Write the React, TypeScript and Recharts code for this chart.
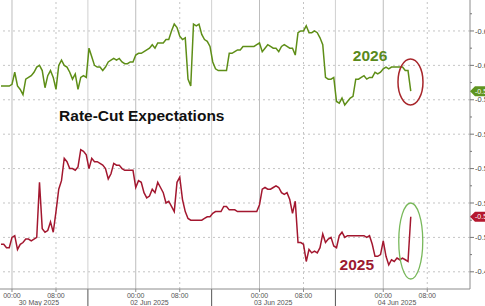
import React from 'react';
import { LineChart, Line, XAxis, YAxis, ReferenceLine, ReferenceDot } from 'recharts';

const FONT = '"Liberation Sans", Arial, Helvetica, sans-serif';

// sampled every 30 min of (compressed) session time, starting 30 May -2h
const SAMPLE_START = -2;
const SAMPLE_STEP = 0.5;

const cuts2026 = [
  -0.588, -0.588, -0.588, -0.588, -0.589, -0.596, -0.588, -0.586, -0.583, -0.592,
  -0.593, -0.594, -0.596, -0.599, -0.6, -0.597, -0.587, -0.594, -0.597, -0.593,
  -0.586, -0.6, -0.603, -0.6, -0.599, -0.596, -0.592, -0.595, -0.586, -0.593,
  -0.594, -0.593, -0.61, -0.605, -0.6, -0.599, -0.599, -0.597, -0.599, -0.602,
  -0.603, -0.604, -0.603, -0.604, -0.602, -0.601, -0.601, -0.602, -0.602, -0.606,
  -0.607, -0.607, -0.608, -0.609, -0.61, -0.612, -0.61, -0.613, -0.613, -0.613,
  -0.615, -0.615, -0.62, -0.624, -0.622, -0.617, -0.615, -0.616, -0.592, -0.588,
  -0.624, -0.623, -0.624, -0.618, -0.615, -0.614, -0.611, -0.602, -0.598, -0.597,
  -0.597, -0.597, -0.597, -0.607, -0.607, -0.608, -0.609, -0.609, -0.611, -0.611,
  -0.611, -0.611, -0.611, -0.612, -0.613, -0.608, -0.61, -0.612, -0.611, -0.61,
  -0.61, -0.608, -0.611, -0.612, -0.611, -0.61, -0.61, -0.606, -0.619, -0.62,
  -0.62, -0.623, -0.619, -0.619, -0.62, -0.619, -0.616, -0.612, -0.593, -0.592,
  -0.592, -0.593, -0.579, -0.578, -0.581, -0.577, -0.579, -0.581, -0.582, -0.592,
  -0.592, -0.593, -0.594, -0.592, -0.593, -0.593, -0.596, -0.595, -0.596, -0.598,
  -0.599, -0.598, -0.599, -0.599, -0.599, -0.599, -0.599, -0.597, -0.597, -0.585,
];

const cuts2025 = [
  -0.496, -0.496, -0.494, -0.494, -0.5, -0.501, -0.493, -0.496, -0.497, -0.499,
  -0.499, -0.498, -0.499, -0.5, -0.532, -0.505, -0.503, -0.504, -0.509, -0.503,
  -0.515, -0.528, -0.533, -0.546, -0.544, -0.54, -0.54, -0.539, -0.541, -0.551,
  -0.55, -0.548, -0.54, -0.546, -0.544, -0.544, -0.543, -0.542, -0.54, -0.534,
  -0.537, -0.543, -0.542, -0.542, -0.54, -0.539, -0.539, -0.539, -0.539, -0.529,
  -0.533, -0.532, -0.526, -0.523, -0.524, -0.528, -0.526, -0.532, -0.529, -0.526,
  -0.52, -0.521, -0.518, -0.515, -0.532, -0.535, -0.522, -0.515, -0.511, -0.51,
  -0.51, -0.51, -0.51, -0.51, -0.511, -0.512, -0.512, -0.514, -0.515, -0.515,
  -0.515, -0.518, -0.518, -0.516, -0.516, -0.516, -0.515, -0.515, -0.515, -0.515,
  -0.515, -0.515, -0.515, -0.515, -0.519, -0.528, -0.529, -0.528, -0.528, -0.529,
  -0.53, -0.529, -0.526, -0.525, -0.526, -0.522, -0.514, -0.521, -0.497, -0.497,
  -0.496, -0.486, -0.493, -0.491, -0.492, -0.491, -0.494, -0.502, -0.497, -0.499,
  -0.5, -0.495, -0.494, -0.501, -0.503, -0.5, -0.501, -0.501, -0.501, -0.501,
  -0.501, -0.501, -0.501, -0.5, -0.501, -0.496, -0.489, -0.489, -0.49, -0.498,
  -0.489, -0.484, -0.487, -0.486, -0.488, -0.487, -0.488, -0.487, -0.486, -0.512,
];

const timeTicks = [0, 8, 22.5, 30.5, 45, 53, 67.5, 75.5];
const timeLabels = ['00:00', '08:00', '00:00', '08:00', '00:00', '08:00', '00:00', '08:00'];
const dateTicks = [4.9, 25, 47.5, 70];
const dateLabels = ['30 May 2025', '02 Jun 2025', '03 Jun 2025', '04 Jun 2025'];
const dayBreaks = [13.8, 36.3, 58.8];

const yMajor = [-0.62, -0.6, -0.58, -0.56, -0.54, -0.52, -0.5, -0.48];
const yTicks = [-0.63, -0.62, -0.61, -0.6, -0.59, -0.58, -0.57, -0.56, -0.55, -0.54, -0.53, -0.52, -0.51, -0.5, -0.49, -0.48];

const X_MIN = -2.18;
const X_MAX = 83.27;
const Y_TOP = -0.638;
const Y_BOTTOM = -0.47;
const Y_BELOW = -0.46;

const GREEN = '#5e8e17';
const RED = '#a3172f';

const chartData = cuts2026.map((v, i) => ({
  t: SAMPLE_START + i * SAMPLE_STEP,
  y2026: v,
  y2025: cuts2025[i],
}));

const last2026 = cuts2026[cuts2026.length - 1];
const last2025 = cuts2025[cuts2025.length - 1];

const YTick = (props: any) => {
  const { x, y, payload } = props;
  const v = payload.value as number;
  const major = yMajor.some((m) => Math.abs(m - v) < 1e-6);
  return (
    <g>
      <line x1={x - 5} x2={x - 5 + (major ? 4 : 2)} y1={y} y2={y} stroke="#777" />
      {major && (
        <text x={x} y={y} dy={2.6} fontSize={7.5} fill="#444" fontFamily={FONT}>
          {v.toFixed(2)}
        </text>
      )}
    </g>
  );
};

const badge = (fill: string, value: number) => (p: any) => (
  <g>
    <polygon
      points={`${p.cx},${p.cy} ${p.cx + 5},${p.cy - 5} ${p.cx + 20},${p.cy - 5} ${p.cx + 20},${p.cy + 5} ${p.cx + 5},${p.cy + 5}`}
      fill={fill}
    />
    <text x={p.cx + 5} y={p.cy + 2.5} fontSize={7} fill="#fff" fontFamily={FONT}>
      {value.toFixed(2)}
    </text>
  </g>
);

const note = (text: string, color: string, size: number) => (p: any) => (
  <text
    x={p.cx}
    y={p.cy}
    textAnchor="middle"
    dominantBaseline="central"
    fontSize={size}
    fontWeight="bold"
    fill={color}
    fontFamily={FONT}
  >
    {text}
  </text>
);

const ring = (color: string, rx: number, ry: number, w: number) => (p: any) => (
  <ellipse cx={p.cx} cy={p.cy} rx={rx} ry={ry} fill="none" stroke={color} strokeWidth={w} />
);

export default function App() {
  return (
    <div style={{ position: 'absolute', left: 0, top: 0, background: '#fff' }}>
      <LineChart width={485} height={306} data={chartData} margin={{ top: 0, right: 0, bottom: 0, left: 0 }}>
        <XAxis
          dataKey="t"
          type="number"
          domain={[X_MIN, X_MAX]}
          ticks={timeTicks}
          interval={0}
          allowDataOverflow
          tickFormatter={(v: number) => timeLabels[timeTicks.indexOf(v)] ?? ''}
          height={10}
          tickSize={3}
          tickMargin={1}
          axisLine={{ stroke: '#8c8c8c' }}
          tickLine={{ stroke: '#8c8c8c' }}
          tick={{ fontSize: 7, fill: '#555', fontFamily: FONT }}
        />
        <XAxis
          xAxisId="date"
          dataKey="t"
          type="number"
          domain={[X_MIN, X_MAX]}
          ticks={dateTicks}
          interval={0}
          allowDataOverflow
          tickFormatter={(v: number) => dateLabels[dateTicks.indexOf(v)] ?? ''}
          height={7}
          tickSize={0}
          tickMargin={1}
          axisLine={false}
          tickLine={false}
          tick={{ fontSize: 7, fill: '#555', fontFamily: FONT }}
        />
        <YAxis
          orientation="right"
          type="number"
          domain={[Y_TOP, Y_BOTTOM]}
          reversed
          allowDataOverflow
          ticks={yTicks}
          interval={0}
          width={15}
          tickSize={4}
          tickMargin={1}
          axisLine={{ stroke: '#8c8c8c' }}
          tickLine={false}
          tick={<YTick />}
        />

        {yMajor.map((v) => (
          <ReferenceLine key={`h${v}`} y={v} stroke="#c4c4c4" strokeDasharray="2 3" />
        ))}
        {timeTicks.map((t, i) => (
          <ReferenceLine
            key={`v${t}`}
            x={t}
            stroke={timeLabels[i] === '00:00' ? '#bdbdbd' : '#c4c4c4'}
            strokeDasharray={timeLabels[i] === '00:00' ? undefined : '2 3'}
          />
        ))}
        {dayBreaks.map((t) => (
          <ReferenceLine key={`d${t}`} x={t} stroke="#d0d0d0" />
        ))}
        {dayBreaks.map((t) => (
          <ReferenceLine
            key={`e${t}`}
            segment={[{ x: t, y: Y_BOTTOM }, { x: t, y: Y_BELOW }]}
            stroke="#555"
            ifOverflow="visible"
          />
        ))}

        <Line
          type="linear"
          dataKey="y2026"
          stroke={GREEN}
          strokeWidth={1.5}
          dot={false}
          activeDot={false}
          isAnimationActive={false}
        />
        <Line
          type="linear"
          dataKey="y2025"
          stroke={RED}
          strokeWidth={1.5}
          dot={false}
          activeDot={false}
          isAnimationActive={false}
        />

        <ReferenceDot x={65.1} y={-0.606} r={0} ifOverflow="visible" shape={note('2026', '#5a891c', 15.5)} />
        <ReferenceDot x={62.7} y={-0.484} r={0} ifOverflow="visible" shape={note('2025', '#9c1a30', 15.5)} />
        <ReferenceDot x={23.6} y={-0.571} r={0} ifOverflow="visible" shape={note('Rate-Cut Expectations', '#111', 15.5)} />

        <ReferenceDot x={72.45} y={-0.5904} r={0} ifOverflow="visible" shape={ring('#a8262b', 12.5, 23, 1.5)} />
        <ReferenceDot x={72.5} y={-0.4979} r={0} ifOverflow="visible" shape={ring('#78b85a', 12, 38, 1.3)} />

        <ReferenceDot x={X_MAX} y={last2026} r={0} ifOverflow="visible" shape={badge('#5f9420', last2026)} />
        <ReferenceDot x={X_MAX} y={last2025} r={0} ifOverflow="visible" shape={badge('#b5182e', last2025)} />
      </LineChart>
    </div>
  );
}
